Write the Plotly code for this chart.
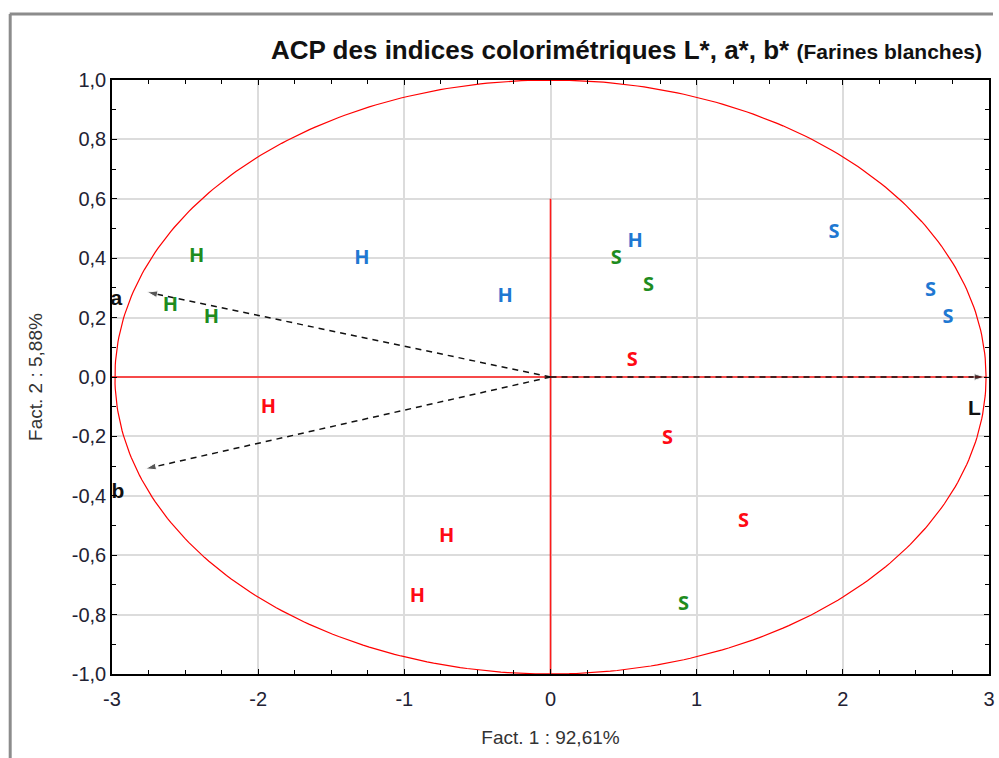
import numpy as np
import plotly.graph_objects as go

# ---- data ----
green_H_x = [-2.42, -2.60, -2.32]
green_H_y = [0.403, 0.24, 0.20]
blue_H_x = [-1.29, -0.31, 0.58]
blue_H_y = [0.397, 0.27, 0.454]
red_H_x = [-1.93, -0.71, -0.91]
red_H_y = [-0.104, -0.54, -0.74]
green_S_x = [0.45, 0.67, 0.91]
green_S_y = [0.397, 0.306, -0.766]
blue_S_x = [1.94, 2.60, 2.72]
blue_S_y = [0.484, 0.289, 0.20]
red_S_x = [0.56, 0.80, 1.32]
red_S_y = [0.054, -0.208, -0.487]

vec_names = ["L", "a", "b"]
vec_x = [2.97, -2.76, -2.77]
vec_y = [0.0, 0.286, -0.309]
vec_label_x = [2.90, -2.97, -2.96]
vec_label_y = [-0.11, 0.26, -0.39]

x_ticks = [-3, -2, -1, 0, 1, 2, 3]
y_ticks = [-1.0, -0.8, -0.6, -0.4, -0.2, 0.0, 0.2, 0.4, 0.6, 0.8, 1.0]

GREEN = "#1e8c1e"
BLUE = "#1f78d2"
RED = "#ff0a14"

fig = go.Figure()

# ellipse (unit circle scaled)
t = np.linspace(0, 2 * np.pi, 400)
fig.add_trace(go.Scatter(x=2.98 * np.cos(t), y=np.sin(t), mode="lines",
                         line=dict(color="#ff0000", width=1.2), hoverinfo="skip"))
# red axes
fig.add_trace(go.Scatter(x=[-3, 2.98], y=[0, 0], mode="lines",
                         line=dict(color="#ff1a1a", width=1.6), hoverinfo="skip"))
fig.add_trace(go.Scatter(x=[0, 0], y=[0.6, -1.0], mode="lines",
                         line=dict(color="#ff1a1a", width=1.6), hoverinfo="skip"))

# vectors
for vx, vy in zip(vec_x, vec_y):
    fig.add_trace(go.Scatter(x=[0, vx], y=[0, vy], mode="lines+markers",
                             line=dict(color="#111111", width=1.5, dash="6px,5px"),
                             marker=dict(symbol="arrow", size=[0, 11], angleref="previous",
                                         color="#111111"),
                             hoverinfo="skip"))
fig.add_trace(go.Scatter(x=vec_label_x, y=vec_label_y, mode="text", text=vec_names,
                         textfont=dict(family="Liberation Sans", size=21, color="#111111",
                                       weight="bold"), hoverinfo="skip"))

def letters(xs, ys, ch, color):
    fig.add_trace(go.Scatter(x=xs, y=ys, mode="text", text=[ch] * len(xs),
                             textfont=dict(family="Open Sans", size=20, color=color,
                                           weight="bold"), hoverinfo="skip"))

letters(green_H_x, green_H_y, "H", GREEN)
letters(blue_H_x, blue_H_y, "H", BLUE)
letters(red_H_x, red_H_y, "H", RED)
letters(green_S_x, green_S_y, "S", GREEN)
letters(blue_S_x, blue_S_y, "S", BLUE)
letters(red_S_x, red_S_y, "S", RED)

axis_common = dict(showline=True, linecolor="black", linewidth=1.5, mirror="ticks",
                   ticks="inside", ticklen=5, tickcolor="black", tickwidth=1,
                   showgrid=True, gridcolor="#dcdcdc", gridwidth=1.5, zeroline=False,
                   tickfont=dict(family="Liberation Sans", size=20, color="#222233"))

fig.update_xaxes(range=[-3, 3], tickmode="array", tickvals=x_ticks,
                 ticktext=[str(v) for v in x_ticks], ticklabelstandoff=6,
                 minor=dict(dtick=0.25, ticks="inside", ticklen=4, tickcolor="black",
                            showgrid=False),
                 title=dict(text="Fact. 1 : 92,61%", standoff=22,
                            font=dict(family="Liberation Sans", size=19, color="#333333")),
                 **axis_common)
fig.update_yaxes(range=[-1, 1], tickmode="array", tickvals=y_ticks,
                 ticktext=[f"{v:.1f}".replace(".", ",") for v in y_ticks],
                 minor=dict(dtick=0.1, ticks="inside", ticklen=4, tickcolor="black",
                            showgrid=False),
                 title=dict(text="Fact. 2 : 5,88%", standoff=24,
                            font=dict(family="Liberation Sans", size=19, color="#333333")),
                 **axis_common)

W, H = 999, 758
ml, mr, mt, mb = 112, 4, 80, 84
pw, ph = W - ml - mr, H - mt - mb

def px2paper_x(px):
    return (px - ml) / pw

def px2paper_y(py):
    return (H - mb - py) / ph

# window border lines
fig.add_shape(type="line", xref="paper", yref="paper",
              x0=px2paper_x(9), x1=px2paper_x(999), y0=px2paper_y(14), y1=px2paper_y(14),
              line=dict(color="#8c8c8c", width=3))
fig.add_shape(type="line", xref="paper", yref="paper",
              x0=px2paper_x(9.5), x1=px2paper_x(9.5), y0=px2paper_y(14), y1=px2paper_y(760),
              line=dict(color="#8c8c8c", width=3))

fig.update_layout(
    width=W, height=H, margin=dict(l=ml, r=mr, t=mt, b=mb),
    plot_bgcolor="white", paper_bgcolor="white", showlegend=False,
    title=dict(text="<b>ACP des indices colorimétriques L*, a*, b*</b> "
                    "<b><span style='font-size:21px'>(Farines blanches)</span></b>",
               font=dict(family="Liberation Sans", size=26, color="#111111"),
               xref="container", x=982 / W, xanchor="right",
               yref="container", y=1 - 50 / H, yanchor="middle"),
)

fig.write_html("out.html")
